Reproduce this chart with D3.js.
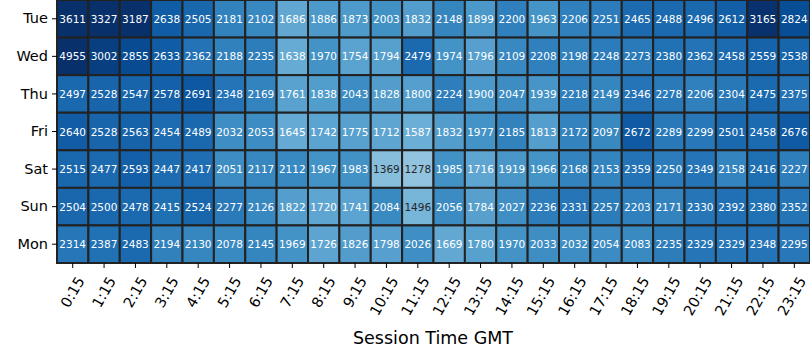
<!DOCTYPE html>
<html>
<head>
<meta charset="utf-8">
<script src="https://cdn.jsdelivr.net/npm/d3@7.9.0/dist/d3.min.js"></script>
<style>
  body { margin: 0; background: #fff; }
  svg { font-family: "DejaVu Sans", sans-serif; }
</style>
</head>
<body>
<svg id="chart" width="810" height="360"></svg>
<script>
// rows = days, columns = session times
const days = ['Tue', 'Wed', 'Thu', 'Fri', 'Sat', 'Sun', 'Mon'];
const times = ['0:15', '1:15', '2:15', '3:15', '4:15', '5:15', '6:15', '7:15', '8:15', '9:15',
  '10:15', '11:15', '12:15', '13:15', '14:15', '15:15', '16:15', '17:15', '18:15', '19:15',
  '20:15', '21:15', '22:15', '23:15'];

const tue = [3611, 3327, 3187, 2638, 2505, 2181, 2102, 1686, 1886, 1873, 2003, 1832, 2148, 1899, 2200, 1963, 2206, 2251, 2465, 2488, 2496, 2612, 3165, 2824];
const wed = [4955, 3002, 2855, 2633, 2362, 2188, 2235, 1638, 1970, 1754, 1794, 2479, 1974, 1796, 2109, 2208, 2198, 2248, 2273, 2380, 2362, 2458, 2559, 2538];
const thu = [2497, 2528, 2547, 2578, 2691, 2348, 2169, 1761, 1838, 2043, 1828, 1800, 2224, 1900, 2047, 1939, 2218, 2149, 2346, 2278, 2206, 2304, 2475, 2375];
const fri = [2640, 2528, 2563, 2454, 2489, 2032, 2053, 1645, 1742, 1775, 1712, 1587, 1832, 1977, 2185, 1813, 2172, 2097, 2672, 2289, 2299, 2501, 2458, 2676];
const sat = [2515, 2477, 2593, 2447, 2417, 2051, 2117, 2112, 1967, 1983, 1369, 1278, 1985, 1716, 1919, 1966, 2168, 2153, 2359, 2250, 2349, 2158, 2416, 2227];
const sun = [2504, 2500, 2478, 2415, 2524, 2277, 2126, 1822, 1720, 1741, 2084, 1496, 2056, 1784, 2027, 2236, 2331, 2257, 2203, 2171, 2330, 2392, 2380, 2352];
const mon = [2314, 2387, 2483, 2194, 2130, 2078, 2145, 1969, 1726, 1826, 1798, 2026, 1669, 1780, 1970, 2033, 2032, 2054, 2083, 2235, 2329, 2329, 2348, 2295];
const counts = [tue, wed, thu, fri, sat, sun, mon];

const cells = [];
counts.forEach((row, r) => row.forEach((v, c) => cells.push({ day: days[r], time: times[c], value: v })));

const svg = d3.select('#chart');
const mLeft = 57, mRight = 810, mTop = 0, mBottom = 263;

const x = d3.scaleBand().domain(times).range([mLeft, mRight]);
const y = d3.scaleBand().domain(days).range([mTop, mBottom]);

// matplotlib "Blues", vmin 0, vmax ~3180 (clamped)
const blues = ['#f7fbff', '#deebf7', '#c6dbef', '#9ecae1', '#6baed6', '#4292c6', '#2171b5', '#08519c', '#08306b'];
const vmax = 3180;
const color = d3.scaleLinear()
  .domain(blues.map((_, i) => i / (blues.length - 1) * vmax))
  .range(blues)
  .clamp(true);

function luminance(c) {
  const rgb = d3.rgb(c);
  const f = (u) => { u /= 255; return u <= 0.03928 ? u / 12.92 : Math.pow((u + 0.055) / 1.055, 2.4); };
  return 0.2126 * f(rgb.r) + 0.7152 * f(rgb.g) + 0.0722 * f(rgb.b);
}

svg.append('g')
  .selectAll('rect')
  .data(cells)
  .join('rect')
  .attr('x', d => x(d.time))
  .attr('y', d => y(d.day))
  .attr('width', x.bandwidth())
  .attr('height', y.bandwidth())
  .attr('fill', d => color(d.value))
  .attr('stroke', '#222')
  .attr('stroke-width', 2);

svg.append('g')
  .selectAll('text')
  .data(cells)
  .join('text')
  .attr('x', d => x(d.time) + x.bandwidth() / 2)
  .attr('y', d => y(d.day) + y.bandwidth() / 2)
  .attr('text-anchor', 'middle')
  .attr('dominant-baseline', 'central')
  .attr('font-size', 10.5)
  .attr('fill', d => luminance(color(d.value)) > 0.408 ? '#262626' : '#fff')
  .text(d => d.value);

// y axis
const yAxis = svg.append('g')
  .attr('transform', `translate(${mLeft},0)`)
  .call(d3.axisLeft(y).tickSize(5).tickPadding(4));
yAxis.select('.domain').remove();
yAxis.selectAll('text').attr('font-size', 14.5).attr('font-family', '"DejaVu Sans", sans-serif').attr('fill', '#000');
yAxis.selectAll('line').attr('stroke', '#000');

// x axis
const xAxis = svg.append('g')
  .attr('transform', `translate(0,${mBottom})`)
  .call(d3.axisBottom(x).tickSize(5).tickPadding(4));
xAxis.select('.domain').remove();
xAxis.selectAll('line').attr('stroke', '#000');
xAxis.selectAll('text')
  .attr('font-size', 14.5)
  .attr('font-family', '"DejaVu Sans", sans-serif')
  .attr('fill', '#000')
  .attr('text-anchor', 'end')
  .attr('dy', '0.35em')
  .attr('transform', 'translate(8,15) rotate(-60)')
  .attr('y', 0)
  .attr('x', 0);

svg.append('text')
  .attr('x', 433)
  .attr('y', 344)
  .attr('text-anchor', 'middle')
  .attr('font-size', 17.5)
  .text('Session Time GMT');
</script>
</body>
</html>
